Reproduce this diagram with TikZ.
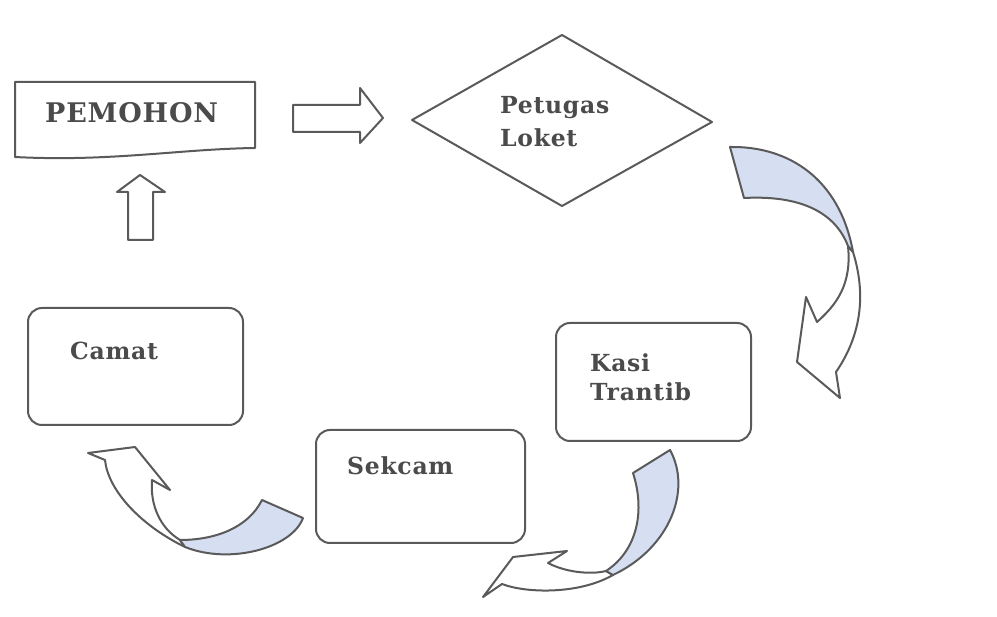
\documentclass[tikz,border=0pt]{standalone}
\usepackage{fontspec}
\newfontfamily\lab[LetterSpace=3]{DejaVu Serif}
\definecolor{ln}{RGB}{90,90,90}
\definecolor{tx}{RGB}{75,75,75}
\definecolor{band}{RGB}{214,222,242}
\begin{document}
\begin{tikzpicture}[x=1pt,y=-1pt,
  outl/.style={draw=ln,line width=2pt,line join=round},
  rbox/.style={outl,rounded corners=14pt},
  lbl/.style={anchor=base west,inner sep=0pt,text=tx,font=\lab\bfseries\fontsize{23.5}{28}\selectfont},
  blk/.style={outl,fill=white},
  bandfill/.style={outl,fill=band}]
\useasboundingbox (0,0) rectangle (997,617);
\fill[white] (0,0) rectangle (997,617);

% PEMOHON document shape
\draw[outl] (15,82) -- (255,82) -- (255,148) .. controls (180,149) and (110,162) .. (15,157) -- cycle;
\node[lbl,font=\lab\bfseries\fontsize{27}{30}\selectfont] (pem) at (45,123) {PEMOHON};

% straight block arrows
\draw[blk] (293,105) -- (360,105) -- (360,88) -- (383,118) -- (360,143) -- (360,132) -- (293,132) -- cycle;
\draw[blk] (128,240) -- (128,192) -- (117,192) -- (140,175) -- (165,192) -- (153,192) -- (153,240) -- cycle;

% diamond
\coordinate (dl) at (412,120);
\coordinate (dt) at (562,35);
\coordinate (dr) at (712,122);
\coordinate (db) at (562,206);
\draw[outl] (dl) -- (dt) -- (dr) -- (db) -- cycle;
\node[lbl] (pet1) at (500,114) {Petugas};
\node[lbl] (pet2) at (500,147) {Loket};

% rounded boxes
\draw[rbox] (28,308) rectangle (243,425);
\node[lbl] (cam) at (70,360) {Camat};
\draw[rbox] (316,430) rectangle (525,543);
\node[lbl] (sek) at (347,475) {Sekcam};
\draw[rbox] (556,323) rectangle (751,441);
\node[lbl] (kas1) at (590,372) {Kasi};
\node[lbl] (kas2) at (590,401) {Trantib};

% curved arrow 1: Petugas Loket -> Kasi Trantib
\draw[blk] (848,246) .. controls (852,285) and (836,305) .. (817,322) -- (806,297) -- (797,362) -- (840,398) -- (836,372) .. controls (858,340) and (868,300) .. (853,252) -- cycle;
\draw[bandfill] (730,147) .. controls (790,146) and (840,180) .. (853,252) -- (848,246) .. controls (835,212) and (800,195) .. (744,198) -- cycle;

% curved arrow 2: Kasi Trantib -> Sekcam
\draw[blk] (606,571) .. controls (590,575) and (565,572) .. (548,563) -- (567,551) -- (513,557) -- (483,597) -- (502,584) .. controls (525,593) and (578,595) .. (613,575) -- cycle;
\draw[bandfill] (670,450) -- (633,473) .. controls (645,510) and (638,550) .. (606,571) -- (613,575) .. controls (670,548) and (692,490) .. (670,450) -- cycle;

% curved arrow 3: Sekcam -> Camat
\draw[blk] (185,547) .. controls (140,525) and (108,490) .. (105,460) -- (88,453) -- (135,447) -- (170,490) -- (152,480) .. controls (150,505) and (160,528) .. (180,540) -- cycle;
\draw[bandfill] (262,500) -- (303,518) .. controls (292,548) and (230,565) .. (185,547) -- (180,540) .. controls (215,540) and (248,528) .. (262,500) -- cycle;
\end{tikzpicture}
\end{document}
